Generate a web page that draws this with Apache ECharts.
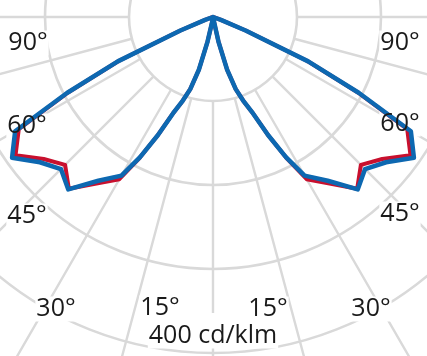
<!DOCTYPE html>
<html>
<head>
<meta charset="utf-8">
<script src="https://cdn.jsdelivr.net/npm/echarts@6/dist/echarts.min.js"></script>
<style>
    html, body {margin: 0; padding: 0; background: #fff;}
    #ldc_chart {width: 427px; height: 356px;}
</style>
</head>
<body>
<div id="ldc_chart"></div>
<script>
// gamma angle from nadir (deg), both halves are symmetric
var gammaList = [0, 5, 10, 12.5, 15, 17.5, 20, 22.5, 25, 27.5, 30, 35, 40, 45, 50, 55, 60, 62.5, 65, 67.5, 70, 75, 80, 85, 90];
// C0 - C180 plane (blue), cd/klm
var planeC0 = [0, 0, 1, 30, 65, 90, 107, 124, 155, 188, 218, 238, 268, 256, 269, 292, 272, 196, 125, 42, 10, 0, 0, 0, 0];
// C90 - C270 plane (red), cd/klm
var planeC90 = [0, 0, 1, 30, 65, 90, 107, 124, 155, 189, 223, 242, 267, 249, 263, 287, 267, 194, 124, 42, 10, 0, 0, 0, 0];
var ringStep = 100;
var ringMax = 500;
var leftLabels = ['90°', '60°', '45°', '30°', '15°'];
var rightLabels = ['90°', '60°', '45°', '30°', '15°'];
var unitLabel = '400 cd/klm';

var CX = 213, CY = 17;
var FONT = '25px "Open Sans", sans-serif';

// left half = gamma, right half = 360 - gamma (drawn from right 90 down to left 90)
function buildCurve(values) {
    let pts = [];
    for (let i = gammaList.length - 1; i > 0; i--) {
        pts.push([values[i], 360 - gammaList[i]]);
    }
    for (let i = 0; i < gammaList.length; i++) {
        pts.push([values[i], gammaList[i]]);
    }
    return pts;
}

// label placement
var leftPos = [[28, 43], [27, 126], [27, 216], [56, 309], [160, 308]];
var rightPos = [[400, 43], [400, 124], [400, 214], [371, 309], [268, 309]];

var graphics = [];
function addLabel(txt, p) {
    // white box under the series, text on top
    graphics.push({
        type: 'text', x: p[0], y: p[1], z: 1,
        style: {
            text: txt, font: FONT, fill: '#fff',
            align: 'center', verticalAlign: 'middle',
            textAlign: 'center', textVerticalAlign: 'middle',
            backgroundColor: '#fff', padding: [0, 1]
        }
    });
    graphics.push({
        type: 'text', x: p[0], y: p[1], z: 10,
        style: {
            text: txt, font: FONT, fill: '#1a1a1a',
            align: 'center', verticalAlign: 'middle',
            textAlign: 'center', textVerticalAlign: 'middle'
        }
    });
}
for (let i = 0; i < leftLabels.length; i++) addLabel(leftLabels[i], leftPos[i]);
for (let i = 0; i < rightLabels.length; i++) addLabel(rightLabels[i], rightPos[i]);
graphics.push({
    type: 'rect', z: 1,
    shape: {x: 150, y: 313, width: 127, height: 35},
    style: {fill: '#fff'}
});
addLabel(unitLabel, [213, 336]);

var gridColor = '#d9d9d9';

var ldc_option = {
    animation: false,
    backgroundColor: '#fff',
    polar: [
        {center: [CX, CY], radius: [84, 420]},   // spokes start at first ring
        {center: [CX, CY], radius: 420}
    ],
    angleAxis: [
        {
            polarIndex: 0, type: 'value', min: 0, max: 360, interval: 15,
            startAngle: 270, clockwise: true,
            axisLine: {show: false}, axisTick: {show: false}, axisLabel: {show: false},
            splitLine: {show: true, lineStyle: {color: gridColor, width: 2.4}}
        },
        {
            polarIndex: 1, type: 'value', min: 0, max: 360,
            startAngle: 270, clockwise: true,
            axisLine: {show: false}, axisTick: {show: false}, axisLabel: {show: false},
            splitLine: {show: false}
        }
    ],
    radiusAxis: [
        {
            polarIndex: 0, type: 'value', min: 0, max: 1,
            axisLine: {show: false}, axisTick: {show: false}, axisLabel: {show: false},
            splitLine: {show: false}
        },
        {
            polarIndex: 1, type: 'value', min: 0, max: ringMax, interval: ringStep,
            axisLine: {show: false}, axisTick: {show: false}, axisLabel: {show: false},
            splitLine: {show: true, lineStyle: {color: gridColor, width: 2.6}}
        }
    ],
    graphic: {elements: graphics},
    series: [
        {
            name: 'C90-C270',
            type: 'line',
            coordinateSystem: 'polar',
            polarIndex: 1,
            showSymbol: false,
            clip: false,
            z: 2,
            lineStyle: {color: '#c8102e', width: 4, join: 'round', cap: 'round'},
            data: buildCurve(planeC90)
        },
        {
            name: 'C0-C180',
            type: 'line',
            coordinateSystem: 'polar',
            polarIndex: 1,
            showSymbol: false,
            clip: false,
            z: 3,
            lineStyle: {color: '#0d68b1', width: 4.5, join: 'round', cap: 'round'},
            data: buildCurve(planeC0)
        }
    ]
};
var ldc_echarts = echarts.init(document.getElementById('ldc_chart'), null, {renderer: 'canvas'});
ldc_echarts.setOption(ldc_option);
</script>
</body>
</html>
